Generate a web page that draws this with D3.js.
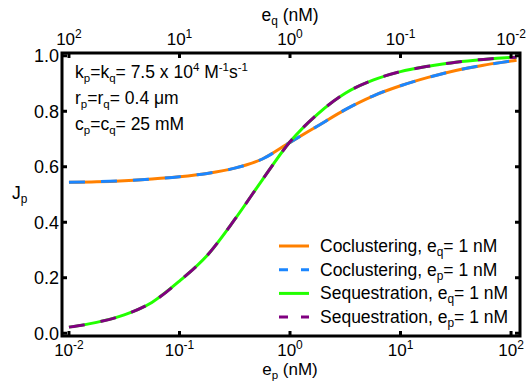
<!DOCTYPE html>
<html>
<head>
<meta charset="utf-8">
<script src="https://cdn.jsdelivr.net/npm/d3@7"></script>
<style>
  html, body { margin: 0; padding: 0; background: #fff; }
  svg { display: block; }
  text { font-family: "Liberation Sans", Arial, sans-serif; fill: #000; }
</style>
</head>
<body>
<svg id="chart" width="527" height="389"></svg>
<script>
// log10 of e_p (nM) at which the curves are sampled
const logE = [-2, -1.75, -1.5, -1.25, -1, -0.75, -0.5, -0.25, 0, 0.25, 0.5, 0.75, 1, 1.25, 1.5, 1.75, 2, 2.05];

// J_p values
const coclusterEq = [0.544, 0.546, 0.550, 0.556, 0.564, 0.576, 0.595, 0.628, 0.688, 0.747, 0.806, 0.855, 0.892, 0.922, 0.947, 0.966, 0.981, 0.984];
const coclusterEp = coclusterEq.slice();
const sequesterEq = [0.022, 0.039, 0.066, 0.111, 0.188, 0.280, 0.410, 0.553, 0.690, 0.790, 0.865, 0.912, 0.943, 0.962, 0.977, 0.987, 0.994, 0.995];
const sequesterEp = sequesterEq.slice();

const bottomTicks = [-2, -1, 0, 1, 2];
const topTickExp = ["2", "1", "0", "-1", "-2"];
const yTicks = [0, 0.2, 0.4, 0.6, 0.8, 1.0];

const seriesNames = [
  ["Coclustering, e", "q", "= 1 nM"],
  ["Coclustering, e", "p", "= 1 nM"],
  ["Sequestration, e", "q", "= 1 nM"],
  ["Sequestration, e", "p", "= 1 nM"]
];
const colors = ["#ff8000", "#1b86ff", "#22ff00", "#800080"];

const svg = d3.select("#chart");
const L = 62, R = 520, T = 53, B = 336;

const x = d3.scaleLog().domain([Math.pow(10, -2.063), Math.pow(10, 2.081)]).range([L, R]);
const y = d3.scaleLinear().domain([-0.01, 1.01]).range([B, T]);

const line = d3.line()
  .x(d => x(Math.pow(10, d[0])))
  .y(d => y(d[1]))
  .curve(d3.curveMonotoneX);

const series = [
  { v: coclusterEq, dash: null },
  { v: coclusterEp, dash: "16,16" },
  { v: sequesterEq, dash: null },
  { v: sequesterEp, dash: "16,16" }
];

const plot = svg.append("g");
series.forEach((s, i) => {
  plot.append("path")
    .datum(logE.map((l, j) => [l, s.v[j]]))
    .attr("d", line)
    .attr("fill", "none")
    .attr("stroke", colors[i])
    .attr("stroke-width", 3)
    .attr("stroke-dasharray", s.dash);
});

// frame
svg.append("rect")
  .attr("x", L).attr("y", T).attr("width", R - L).attr("height", B - T)
  .attr("fill", "none").attr("stroke", "#000").attr("stroke-width", 3);

const tickLen = 5;
// x ticks on bottom and top (pointing inward)
bottomTicks.forEach((e, i) => {
  const px = x(Math.pow(10, e));
  svg.append("line").attr("x1", px).attr("x2", px).attr("y1", B).attr("y2", B - tickLen)
    .attr("stroke", "#000").attr("stroke-width", 3);
  svg.append("line").attr("x1", px).attr("x2", px).attr("y1", T).attr("y2", T + tickLen)
    .attr("stroke", "#000").attr("stroke-width", 3);

  const tb = svg.append("text").attr("x", px).attr("y", 356).attr("text-anchor", "middle")
    .attr("font-size", 17);
  tb.append("tspan").text("10");
  tb.append("tspan").attr("dy", -7).attr("font-size", 12).text(String(e));

  const tt = svg.append("text").attr("x", px).attr("y", 45).attr("text-anchor", "middle")
    .attr("font-size", 17);
  tt.append("tspan").text("10");
  tt.append("tspan").attr("dy", -7).attr("font-size", 12).text(topTickExp[i]);
});

// y ticks on left and right
yTicks.forEach(v => {
  const py = y(v);
  svg.append("line").attr("x1", L).attr("x2", L + tickLen).attr("y1", py).attr("y2", py)
    .attr("stroke", "#000").attr("stroke-width", 3);
  svg.append("line").attr("x1", R).attr("x2", R - tickLen).attr("y1", py).attr("y2", py)
    .attr("stroke", "#000").attr("stroke-width", 3);
  svg.append("text").attr("x", 59).attr("y", py + 6.5).attr("text-anchor", "end")
    .attr("font-size", 18).text(d3.format(".1f")(v));
});

// axis titles
function subLabel(xp, yp, main, sub, rest, size, anchor) {
  const t = svg.append("text").attr("x", xp).attr("y", yp).attr("font-size", size)
    .attr("text-anchor", anchor || "start");
  t.append("tspan").text(main);
  t.append("tspan").attr("dy", 4).attr("font-size", size * 0.68).text(sub);
  if (rest) t.append("tspan").attr("dy", -4).text(rest);
  return t;
}
subLabel(290, 375, "e", "p", " (nM)", 17, "middle");
subLabel(290, 21, "e", "q", " (nM)", 17.5, "middle");
subLabel(12, 199, "J", "p", null, 17.5, "start");

// parameter annotation
const fs = 17.5, ss = 11.5;
const a1 = svg.append("text").attr("x", 75).attr("y", 78).attr("font-size", fs);
a1.append("tspan").text("k");
a1.append("tspan").attr("dy", 4).attr("font-size", ss).text("p");
a1.append("tspan").attr("dy", -4).text("=k");
a1.append("tspan").attr("dy", 4).attr("font-size", ss).text("q");
a1.append("tspan").attr("dy", -4).text("= 7.5 x 10");
a1.append("tspan").attr("dy", -7).attr("font-size", ss).text("4");
a1.append("tspan").attr("dy", 7).text(" M");
a1.append("tspan").attr("dy", -7).attr("font-size", ss).text("-1");
a1.append("tspan").attr("dy", 7).text("s");
a1.append("tspan").attr("dy", -7).attr("font-size", ss).text("-1");

const a2 = svg.append("text").attr("x", 75).attr("y", 104).attr("font-size", fs);
a2.append("tspan").text("r");
a2.append("tspan").attr("dy", 4).attr("font-size", ss).text("p");
a2.append("tspan").attr("dy", -4).text("=r");
a2.append("tspan").attr("dy", 4).attr("font-size", ss).text("q");
a2.append("tspan").attr("dy", -4).text("= 0.4 μm");

const a3 = svg.append("text").attr("x", 75).attr("y", 130).attr("font-size", fs);
a3.append("tspan").text("c");
a3.append("tspan").attr("dy", 4).attr("font-size", ss).text("p");
a3.append("tspan").attr("dy", -4).text("=c");
a3.append("tspan").attr("dy", 4).attr("font-size", ss).text("q");
a3.append("tspan").attr("dy", -4).text("= 25 mM");

// legend
const legendDash = [null, "9,13", null, "9,13"];
seriesNames.forEach((n, i) => {
  const ly = 246 + i * 23.7;
  svg.append("line").attr("x1", 279).attr("x2", 309).attr("y1", ly).attr("y2", ly)
    .attr("stroke", colors[i]).attr("stroke-width", 3)
    .attr("stroke-dasharray", legendDash[i]);
  subLabel(320, ly + 6, n[0], n[1], n[2], 17.5, "start");
});
</script>
</body>
</html>
